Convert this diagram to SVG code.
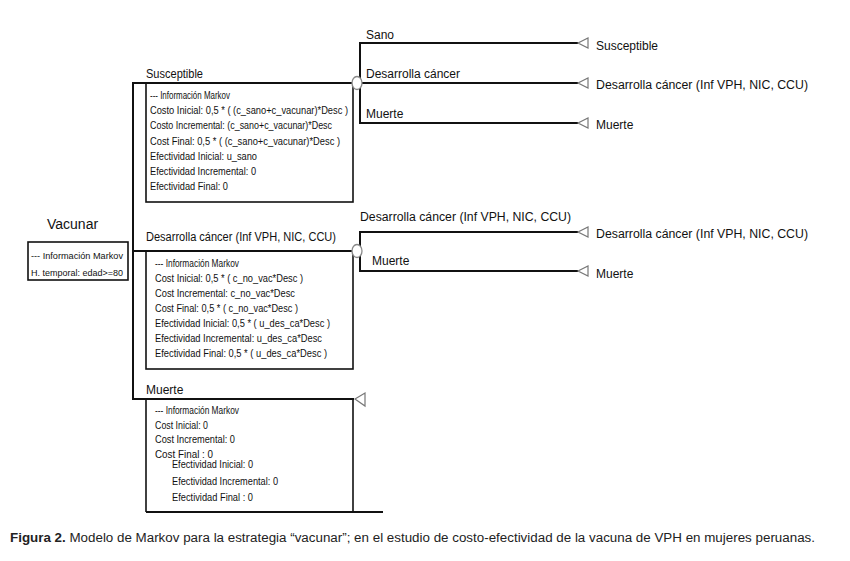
<svg xmlns="http://www.w3.org/2000/svg" width="850" height="561" viewBox="0 0 850 561">
<style>
.ln{stroke:#111;stroke-width:2;fill:none}
.bx{stroke:#111;stroke-width:1.6;fill:none}
.tri{fill:#fff;stroke:#777;stroke-width:1.2}
.ch{fill:#fff;stroke:#888;stroke-width:1.3}
.lb{font-family:"Liberation Sans",Arial,sans-serif;font-size:12px;fill:#111}
.sm{font-family:"Liberation Sans",Arial,sans-serif;font-size:10.5px;fill:#111}
.hd{font-family:"Liberation Sans",Arial,sans-serif;font-size:9.5px;fill:#111}
.cap{font-family:"Liberation Sans",Arial,sans-serif;font-size:12.5px;fill:#222}
</style>
<rect width="850" height="561" fill="#fff"/>
<g id="connectors">
  <line class="ln" x1="133" y1="82" x2="133" y2="400"/>
  <line class="ln" x1="133" y1="83" x2="352" y2="83"/>
  <line class="ln" x1="133" y1="251" x2="352" y2="251"/>
  <line class="ln" x1="133" y1="399" x2="354" y2="399"/>
  <line class="ln" x1="360" y1="42" x2="360" y2="124"/>
  <line class="ln" x1="360" y1="43" x2="578" y2="43"/>
  <line class="ln" x1="362" y1="83" x2="578" y2="83"/>
  <line class="ln" x1="360" y1="123" x2="578" y2="123"/>
  <line class="ln" x1="360" y1="231" x2="360" y2="272"/>
  <line class="ln" x1="360" y1="232" x2="578" y2="232"/>
  <line class="ln" x1="360" y1="271" x2="578" y2="271"/>
  <text class="lb" x="366" y="39">Sano</text>
  <text class="lb" x="366" y="78">Desarrolla cáncer</text>
  <text class="lb" x="366" y="118">Muerte</text>
  <text class="lb" x="360" y="221" textLength="211" lengthAdjust="spacingAndGlyphs">Desarrolla cáncer (Inf VPH, NIC, CCU)</text>
  <text class="lb" x="372" y="265">Muerte</text>
</g>
<g id="vacunar">
  <text x="47" y="229" font-family="Liberation Sans, Arial, sans-serif" font-size="14" fill="#111">Vacunar</text>
  <rect class="bx" x="28" y="242" width="100" height="38"/>
  <text class="hd" x="31" y="259" textLength="92" lengthAdjust="spacingAndGlyphs">--- Información Markov</text>
  <text class="hd" x="31" y="276" textLength="92" lengthAdjust="spacingAndGlyphs">H. temporal: edad&gt;=80</text>
</g>
<g id="susceptible">
  <text class="lb" x="146" y="78" textLength="57" lengthAdjust="spacingAndGlyphs">Susceptible</text>
  <rect class="bx" x="146" y="83" width="207" height="119"/>
  <text class="sm" x="150" y="99" textLength="80" lengthAdjust="spacingAndGlyphs">--- Información Markov</text>
  <text class="sm" x="150" y="114" textLength="198" lengthAdjust="spacingAndGlyphs">Costo Inicial: 0,5 * ( (c_sano+c_vacunar)*Desc )</text>
  <text class="sm" x="150" y="129" textLength="182" lengthAdjust="spacingAndGlyphs">Costo Incremental: (c_sano+c_vacunar)*Desc</text>
  <text class="sm" x="150" y="145" textLength="190" lengthAdjust="spacingAndGlyphs">Cost Final: 0,5 * ( (c_sano+c_vacunar)*Desc )</text>
  <text class="sm" x="150" y="160" textLength="107" lengthAdjust="spacingAndGlyphs">Efectividad Inicial: u_sano</text>
  <text class="sm" x="150" y="175" textLength="106" lengthAdjust="spacingAndGlyphs">Efectividad Incremental: 0</text>
  <text class="sm" x="150" y="190" textLength="78" lengthAdjust="spacingAndGlyphs">Efectividad Final: 0</text>
  <ellipse class="ch" cx="357" cy="83" rx="5" ry="6.5"/>
</g>
<g id="term-susceptible">
  <polygon class="tri" points="578,43 588,38 588,48"/>
  <text class="lb" x="596" y="50">Susceptible</text>
</g>
<g id="term-desarrolla-1">
  <polygon class="tri" points="578,83 588,78 588,88"/>
  <text class="lb" x="596" y="89" textLength="212" lengthAdjust="spacingAndGlyphs">Desarrolla cáncer (Inf VPH, NIC, CCU)</text>
</g>
<g id="term-muerte-1">
  <polygon class="tri" points="578,123 588,118 588,128"/>
  <text class="lb" x="596" y="129">Muerte</text>
</g>
<g id="desarrolla">
  <text class="lb" x="146" y="241" textLength="190" lengthAdjust="spacingAndGlyphs">Desarrolla cáncer (Inf VPH, NIC, CCU)</text>
  <rect class="bx" x="146" y="251" width="207" height="118"/>
  <text class="sm" x="155" y="267" textLength="84" lengthAdjust="spacingAndGlyphs">--- Información Markov</text>
  <text class="sm" x="155" y="282" textLength="148" lengthAdjust="spacingAndGlyphs">Cost Inicial: 0,5 * ( c_no_vac*Desc )</text>
  <text class="sm" x="155" y="297" textLength="140" lengthAdjust="spacingAndGlyphs">Cost Incremental: c_no_vac*Desc</text>
  <text class="sm" x="155" y="312" textLength="143" lengthAdjust="spacingAndGlyphs">Cost Final: 0,5 * ( c_no_vac*Desc )</text>
  <text class="sm" x="155" y="327" textLength="175" lengthAdjust="spacingAndGlyphs">Efectividad Inicial: 0,5 * ( u_des_ca*Desc )</text>
  <text class="sm" x="155" y="342" textLength="167" lengthAdjust="spacingAndGlyphs">Efectividad Incremental: u_des_ca*Desc</text>
  <text class="sm" x="155" y="357" textLength="172" lengthAdjust="spacingAndGlyphs">Efectividad Final: 0,5 * ( u_des_ca*Desc )</text>
  <ellipse class="ch" cx="357" cy="251" rx="5" ry="6.5"/>
</g>
<g id="term-desarrolla-2">
  <polygon class="tri" points="578,232 588,227 588,237"/>
  <text class="lb" x="596" y="238" textLength="212" lengthAdjust="spacingAndGlyphs">Desarrolla cáncer (Inf VPH, NIC, CCU)</text>
</g>
<g id="term-muerte-2">
  <polygon class="tri" points="578,271 588,266 588,276"/>
  <text class="lb" x="596" y="278">Muerte</text>
</g>
<g id="muerte">
  <text class="lb" x="146" y="394">Muerte</text>
  <line class="bx" x1="146" y1="399" x2="146" y2="512"/>
  <line class="bx" x1="353" y1="399" x2="353" y2="512"/>
  <line class="ln" x1="146" y1="512" x2="383" y2="512"/>
  <polygon class="tri" points="355,399 365,393 365,406"/>
  <text class="sm" x="155" y="414" textLength="84" lengthAdjust="spacingAndGlyphs">--- Información Markov</text>
  <text class="sm" x="155" y="429" textLength="53" lengthAdjust="spacingAndGlyphs">Cost Inicial: 0</text>
  <text class="sm" x="155" y="443" textLength="80" lengthAdjust="spacingAndGlyphs">Cost Incremental: 0</text>
  <text class="sm" x="155" y="458" textLength="58" lengthAdjust="spacingAndGlyphs">Cost Final : 0</text>
  <text class="sm" x="172" y="468" textLength="81" lengthAdjust="spacingAndGlyphs">Efectividad Inicial: 0</text>
  <text class="sm" x="172" y="485" textLength="106" lengthAdjust="spacingAndGlyphs">Efectividad Incremental: 0</text>
  <text class="sm" x="172" y="501" textLength="81" lengthAdjust="spacingAndGlyphs">Efectividad Final : 0</text>
</g>
<text class="cap" x="10" y="542" textLength="805" lengthAdjust="spacingAndGlyphs"><tspan font-weight="bold">Figura 2.</tspan> Modelo de Markov para la estrategia “vacunar”; en el estudio de costo-efectividad de la vacuna de VPH en mujeres peruanas.</text>
</svg>
